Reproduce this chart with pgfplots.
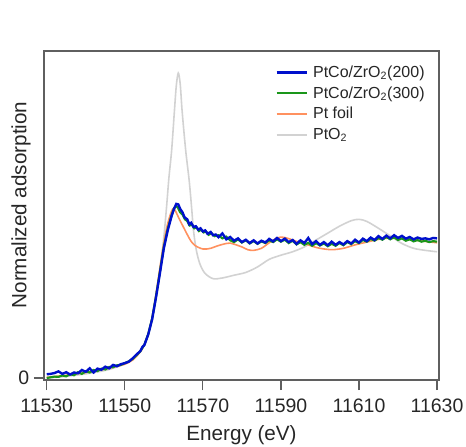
\documentclass[border=0pt]{standalone}
\usepackage{fontspec}
\setmainfont{Liberation Sans}
\usepackage{pgfplots}
\pgfplotsset{compat=1.18}
\definecolor{cblue}{RGB}{0,16,204}
\definecolor{cgreen}{RGB}{26,150,26}
\definecolor{corange}{RGB}{255,145,95}
\definecolor{cgray}{RGB}{210,210,210}
\definecolor{cframe}{RGB}{95,95,95}
\begin{document}
\begin{tikzpicture}
\begin{axis}[
  scale only axis, width=296.25pt, height=246.75pt,
  xmin=11529.3, xmax=11630.5, ymin=-0.0145, ymax=2.37,
  xtick={11530,11550,11570,11590,11610,11630}, ytick={0},
  scaled x ticks=false,
  tick align=outside, tick pos=left, major tick length=7.5pt,
  axis line style={draw=cframe, line width=1pt},
  every tick/.style={draw=cframe, line width=0.9pt},
  /pgf/number format/assume math mode=true,
  /pgf/number format/1000 sep={},
  /pgf/number format/fixed,
  ticklabel style={font=\fontsize{14.6}{17}\selectfont, text=black!85},
  xticklabel style={yshift=-3pt},
  xlabel={Energy (eV)}, ylabel={Normalized adsorption},
  label style={font=\fontsize{15.5}{18}\selectfont, text=black!85},
  xlabel style={at={(axis description cs:0.5,-0.168)}, anchor=center},
  ylabel style={at={(axis description cs:-0.058,0.532)}, anchor=center, rotate=0},
  reverse legend,
  legend style={draw=none, fill=none, at={(axis description cs:0.585,0.960)}, anchor=north west,
    font=\fontsize{12}{14}\selectfont, row sep=3.4pt, inner sep=0pt,
    nodes={inner sep=1pt, text=black!85}},
  legend cell align=left,
  legend image code/.code={\draw[#1] (0pt,0pt) -- (22.5pt,0pt); \path (25.5pt,0pt);},
]
\coordinate (bl) at (rel axis cs:0,0);
\coordinate (tr) at (rel axis cs:1,1);
% PtO2
\addplot[cgray, line width=1.2pt, smooth, tension=0.5] coordinates {
(11530,0.00) (11535,0.012) (11540,0.03) (11545,0.055) (11548,0.08) (11551,0.115) (11553,0.16) (11555,0.24)
(11556,0.31) (11557,0.43) (11558,0.59) (11559,0.78) (11560,1.02) (11560.7,1.24) (11561.3,1.45) (11562,1.65)
(11562.7,1.93) (11563.2,2.12) (11563.7,2.21) (11564.2,2.13) (11564.7,1.93) (11565.6,1.65) (11566.5,1.43)
(11567.1,1.24) (11567.6,1.07) (11568.3,0.93) (11569.2,0.83) (11570.5,0.76) (11572.6,0.72) (11575,0.725)
(11578,0.745) (11581,0.765) (11584,0.805) (11587,0.86) (11590,0.89) (11593,0.915) (11596,0.95)
(11599,1.00) (11602,1.05) (11605,1.10) (11608,1.14) (11610,1.15) (11612,1.135) (11615,1.085)
(11618,1.03) (11621,0.975) (11624,0.94) (11627,0.925) (11630,0.915)
};
\addlegendentry{PtO\textsubscript{2}}
% Pt foil
\addplot[corange, line width=1.2pt, smooth, tension=0.5] coordinates {
(11530,0.005) (11535,0.02) (11540,0.04) (11545,0.065) (11548,0.085) (11550,0.10) (11552,0.13) (11554,0.19)
(11555,0.24) (11556,0.32) (11557,0.44) (11558,0.61) (11559,0.80) (11560,0.98) (11561,1.12) (11562,1.21)
(11562.5,1.228) (11563,1.21) (11564,1.15) (11565,1.095) (11566,1.04) (11567,0.99) (11568,0.96) (11569,0.945)
(11570,0.935) (11571,0.935) (11572,0.94) (11574,0.96) (11576,0.975) (11577,0.978) (11578,0.97) (11580,0.95)
(11581.5,0.93) (11583,0.925) (11585,0.94) (11587,0.98) (11589,1.015) (11590.5,1.02) (11592,1.01) (11594,0.99)
(11596,0.975) (11598,0.955) (11600,0.94) (11603,0.93) (11606,0.94) (11609,0.965) (11612,0.985) (11615,1.005)
(11618,1.015) (11621,1.01) (11624,1.0) (11627,0.99) (11630,0.98)
};
\addlegendentry{Pt foil}
% PtCo/ZrO2(300)
\addplot[cgreen, line width=1.6pt] coordinates {
(11530,0.000) (11531,0.005) (11532,0.010) (11533,0.008) (11534,0.018) (11535,0.012) (11536,0.028) (11537,0.020)
(11538,0.042) (11539,0.030) (11540,0.048) (11541,0.040) (11542,0.058) (11543,0.050) (11544,0.068) (11545,0.062)
(11546,0.080) (11547,0.078) (11548,0.092) (11549,0.095) (11550,0.108) (11551,0.120) (11552,0.138) (11553,0.165)
(11554,0.195) (11555,0.240) (11556,0.318) (11557,0.430) (11558,0.592) (11559,0.770) (11560,0.950) (11561,1.080)
(11562,1.180) (11562.6,1.228) (11563.1,1.248) (11563.6,1.235) (11564.2,1.200) (11564.8,1.185) (11565.4,1.150)
(11566,1.138) (11566.6,1.105) (11567.2,1.112) (11567.8,1.085) (11568.4,1.092) (11569,1.065) (11569.6,1.075)
(11570.2,1.055) (11570.8,1.062) (11571.5,1.038) (11572.2,1.050) (11573,1.028) (11574,1.035) (11575,1.012)
(11576,1.025) (11577,0.998) (11578,0.985) (11579,1.005) (11580,0.982) (11581,0.998) (11582,0.975) (11583,0.992)
(11584,0.972) (11585,0.990) (11586,0.978) (11587,0.998) (11588,0.985) (11589,1.005) (11590,0.988) (11591,1.002)
(11592,0.978) (11593,0.995) (11594,0.968) (11595,0.985) (11596,0.965) (11597,0.980) (11598,0.958) (11599,0.978)
(11600,0.960) (11601,0.975) (11602,0.955) (11603,0.972) (11604,0.958) (11605,0.978) (11606,0.962) (11607,0.985)
(11608,0.970) (11609,0.992) (11610,0.978) (11611,1.000) (11612,0.988) (11613,1.008) (11614,0.995) (11615,1.015)
(11616,1.002) (11617,1.022) (11618,1.005) (11619,1.020) (11620,1.000) (11621,1.012) (11622,0.995) (11623,1.005)
(11624,0.990) (11625,1.000) (11626,0.988) (11627,0.995) (11628,0.985) (11629,0.992) (11630,0.988)
};
\addlegendentry{PtCo/ZrO\textsubscript{2}(300)}
% PtCo/ZrO2(200)
\addplot[cblue, line width=1.8pt] coordinates {
(11530,0.027) (11531,0.030) (11532,0.036) (11533,0.048) (11534,0.030) (11535,0.042) (11536,0.025) (11537,0.040)
(11538,0.034) (11539,0.058) (11540,0.045) (11541,0.070) (11542,0.040) (11543,0.068) (11544,0.060) (11545,0.082)
(11546,0.070) (11547,0.095) (11548,0.085) (11549,0.100) (11550,0.108) (11551,0.118) (11552,0.142) (11553,0.170)
(11554,0.196) (11554.5,0.225) (11555,0.238) (11556,0.315) (11557,0.425) (11558,0.585) (11559,0.760) (11560,0.940)
(11561,1.070) (11562,1.175) (11562.6,1.225) (11563.2,1.262) (11563.7,1.258) (11564.2,1.225) (11564.8,1.200)
(11565.3,1.165) (11566,1.150) (11566.5,1.115) (11567,1.125) (11567.6,1.095) (11568.2,1.100) (11568.8,1.075)
(11569.4,1.085) (11570,1.062) (11570.6,1.070) (11571.2,1.045) (11572,1.058) (11572.6,1.035) (11573.3,1.040)
(11574,1.020) (11575,1.048) (11576,1.005) (11577,1.022) (11578,0.995) (11579,1.012) (11580,0.985) (11581,1.002)
(11582,0.978) (11583,0.998) (11584,0.975) (11585,0.995) (11586,0.982) (11587,1.008) (11588,0.990) (11589,1.015)
(11590,0.992) (11591,1.010) (11592,0.985) (11593,1.000) (11594,0.972) (11595,0.998) (11596,0.978) (11597,1.015)
(11598,0.970) (11599,0.992) (11600,0.965) (11601,0.985) (11602,0.962) (11603,0.988) (11604,0.965) (11605,0.985)
(11606,0.968) (11607,0.992) (11608,0.975) (11609,1.002) (11610,0.982) (11611,1.010) (11612,0.992) (11613,1.018)
(11614,1.000) (11615,1.028) (11616,1.008) (11617,1.032) (11618,1.012) (11619,1.035) (11620,1.015) (11621,1.030)
(11622,1.010) (11623,1.022) (11624,1.005) (11625,1.018) (11626,1.008) (11627,1.012) (11628,1.005) (11629,1.015)
(11630,1.012)
};
\addlegendentry{PtCo/ZrO\textsubscript{2}(200)}
\end{axis}
\pgfresetboundingbox
\path ([shift={(-33pt,-49.5pt)}]bl) rectangle ([shift={(20.25pt,38.25pt)}]tr);
\end{tikzpicture}
\end{document}
